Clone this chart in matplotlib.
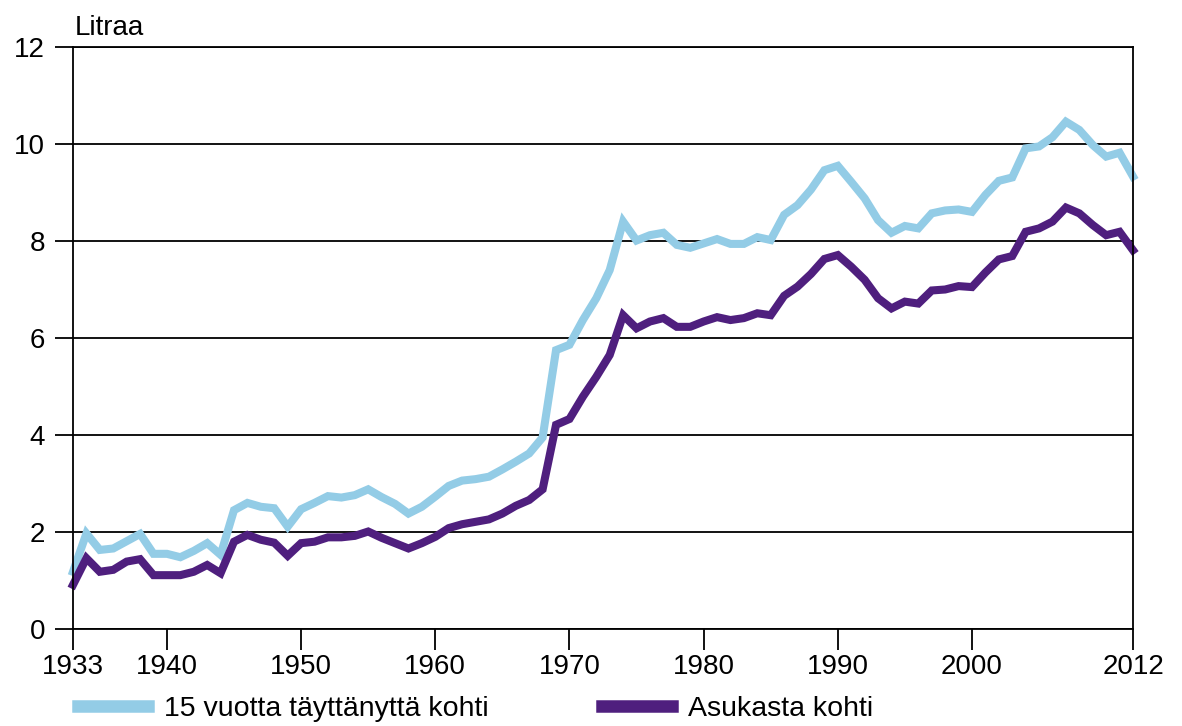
import matplotlib
matplotlib.use("Agg")
import matplotlib.pyplot as plt

# -- DATA ---------------------------------------------------------------------
years = list(range(1933, 2013))

# litres per person aged 15 and over
adult = [1.18, 1.97, 1.63, 1.66, 1.81, 1.96, 1.55, 1.55, 1.48, 1.61,
         1.77, 1.53, 2.45, 2.60, 2.52, 2.49, 2.11, 2.47, 2.60, 2.74,
         2.71, 2.76, 2.88, 2.72, 2.58, 2.38, 2.52, 2.73, 2.95, 3.06,
         3.09, 3.14, 3.29, 3.45, 3.62, 3.95, 5.75, 5.86, 6.37, 6.82,
         7.40, 8.40, 8.01, 8.12, 8.17, 7.92, 7.86, 7.95, 8.04, 7.94,
         7.94, 8.08, 8.02, 8.54, 8.74, 9.06, 9.46, 9.55, 9.22, 8.88,
         8.43, 8.17, 8.31, 8.26, 8.57, 8.63, 8.65, 8.60, 8.95, 9.24,
         9.31, 9.91, 9.95, 10.14, 10.46, 10.29, 9.98, 9.74, 9.82, 9.33]

# litres per inhabitant
capita = [0.91, 1.46, 1.18, 1.22, 1.39, 1.44, 1.11, 1.11, 1.11, 1.18,
          1.32, 1.15, 1.80, 1.94, 1.84, 1.78, 1.51, 1.77, 1.80, 1.89,
          1.89, 1.92, 2.01, 1.88, 1.77, 1.66, 1.77, 1.90, 2.08, 2.16,
          2.21, 2.26, 2.38, 2.54, 2.66, 2.88, 4.21, 4.33, 4.79, 5.20,
          5.65, 6.47, 6.20, 6.34, 6.41, 6.23, 6.23, 6.34, 6.43, 6.37,
          6.41, 6.51, 6.47, 6.87, 7.06, 7.32, 7.63, 7.71, 7.47, 7.20,
          6.82, 6.61, 6.75, 6.71, 6.98, 7.00, 7.07, 7.05, 7.35, 7.62,
          7.69, 8.19, 8.26, 8.40, 8.69, 8.57, 8.33, 8.12, 8.19, 7.81]

labels = ["15 vuotta täyttänyttä kohti", "Asukasta kohti"]
xticks = [1933, 1940, 1950, 1960, 1970, 1980, 1990, 2000, 2012]
yticks = [0, 2, 4, 6, 8, 10, 12]

# -- PLOT ---------------------------------------------------------------------
plt.rcParams['font.family'] = ['Liberation Sans', 'DejaVu Sans']

light = "#93cce6"
dark = "#4f1f7e"

fig = plt.figure(figsize=(11.82, 7.26), dpi=100)
ax = fig.add_axes([73 / 1182, 1 - 629 / 726, 1060 / 1182, 582 / 726])

ax.set_xlim(1933, 2012)
ax.set_ylim(0, 12)
ax.set_yticks(yticks)
ax.set_xticks(xticks)
ax.tick_params(axis='y', length=13, width=1.3, pad=7, labelsize=20)
ax.tick_params(axis='x', length=15, width=1.3, pad=3, labelsize=20)
ax.yaxis.grid(True, color='black', linewidth=1.3)
ax.set_axisbelow(True)
for s in ax.spines.values():
    s.set_linewidth(1.3)

l1, = ax.plot(years, adult, color=light, linewidth=5.8, solid_joinstyle='miter',
              label=labels[0], clip_on=False)
l2, = ax.plot(years, capita, color=dark, linewidth=5.8, solid_joinstyle='miter',
              label=labels[1], clip_on=False)

fig.text(75 / 1182, 1 - 35 / 726, "Litraa", fontsize=20, va='baseline')

# legend sits at the very bottom edge, as in the source
fig.legend(handles=[l1, l2], loc='center left', ncol=2,
           bbox_to_anchor=(67 / 1182, 1 - 709 / 726), frameon=False,
           fontsize=20.5, handlelength=2.45, columnspacing=4.0, handletextpad=0.55,
           borderaxespad=0)
for h in fig.legends[0].legend_handles:
    h.set_linewidth(9)

fig.savefig("out.png", dpi=100)
